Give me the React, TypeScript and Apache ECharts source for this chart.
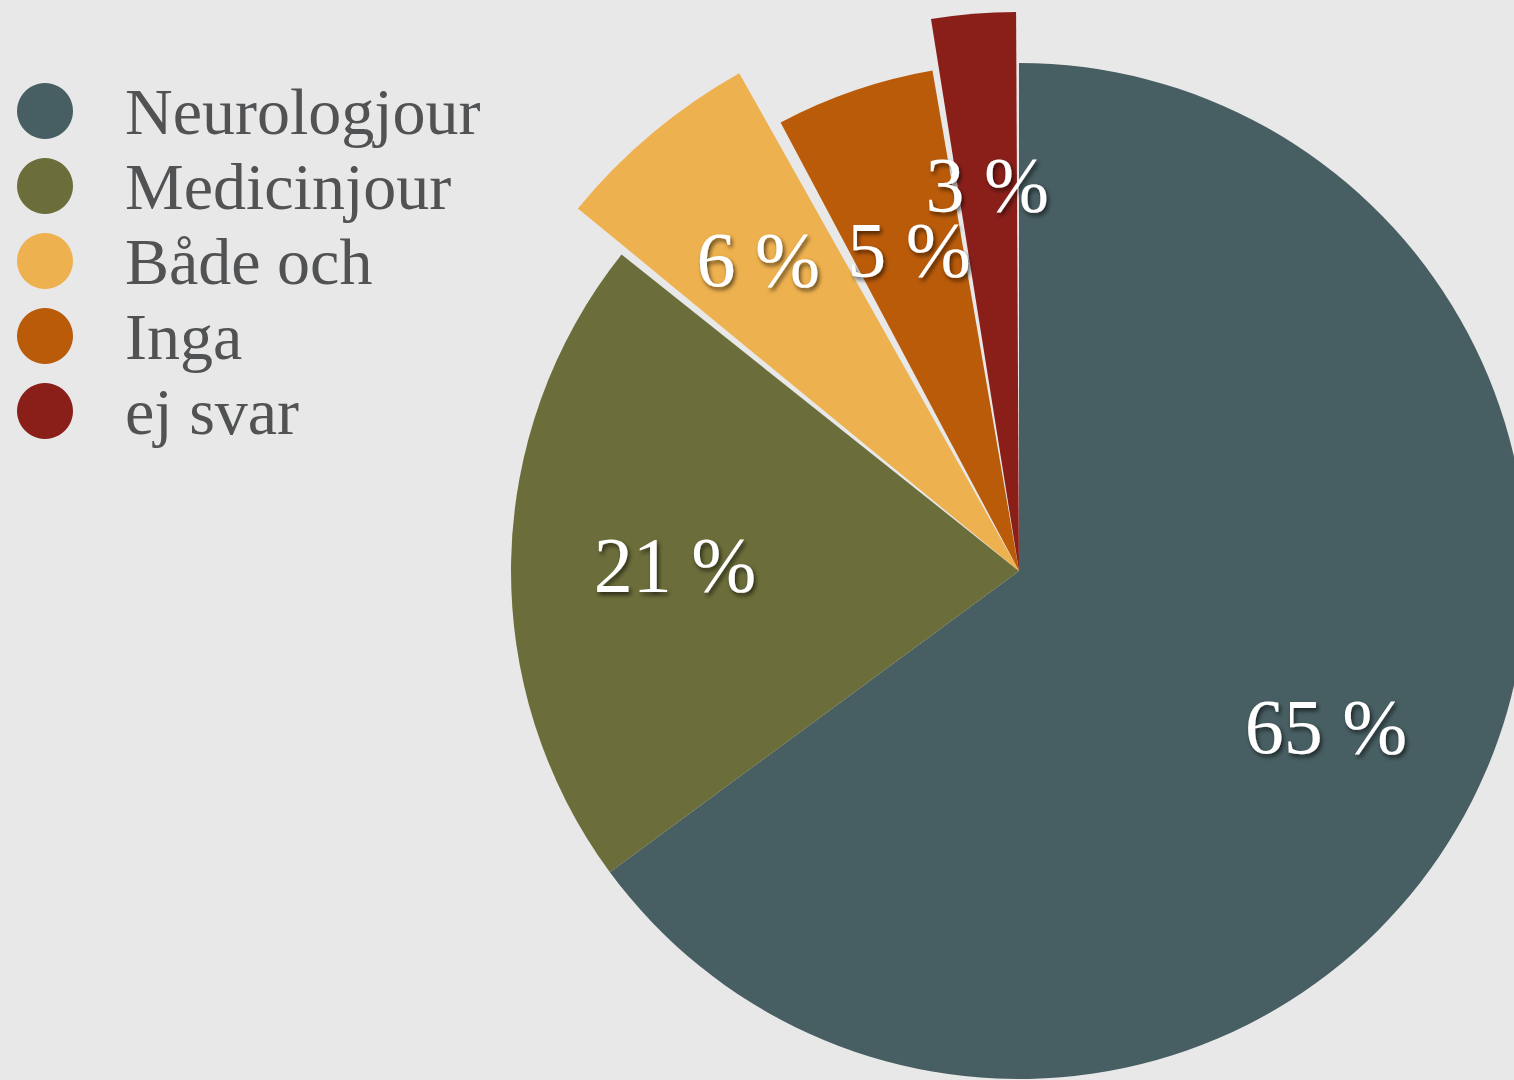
import React, { useEffect, useRef } from "react";
import * as echarts from "echarts";

// ---- data ----
const categories = ["Neurologjour", "Medicinjour", "Både och", "Inga", "ej svar"];
const shares = [64.9, 20.8, 6.4, 5.3, 2.6];

// ---- styles ----
const COLORS = ["#475e62", "#6b6d3a", "#eeb14f", "#ba5b0a", "#8a1f1a"];
const FONT = "'Liberation Serif', 'Times New Roman', serif";
const CENTER = [1019, 571];
// groups of slices drawn with their own (exploded) radius and gap
const GROUPS = [
  { idx: [0, 1], r: 508, pad: 0, labelR: 341 },
  { idx: [2], r: 571, pad: 1.8, labelR: 403 },
  { idx: [3], r: 508, pad: 0.9, labelR: 337 },
  { idx: [4], r: 559, pad: 0.6, labelR: 385 },
];

function buildOption() {
  const drawn: any[] = [];
  const labels: any[] = [];
  GROUPS.forEach((g) => {
    drawn.push({
      type: "pie",
      center: CENTER,
      radius: [0, g.r],
      startAngle: 90,
      clockwise: true,
      padAngle: g.pad,
      silent: true,
      avoidLabelOverlap: false,
      label: { show: false },
      labelLine: { show: false },
      emphasis: { disabled: true },
      data: categories.map((name, i) => ({
        name,
        value: shares[i],
        itemStyle: {
          color: g.idx.includes(i) ? COLORS[i] : "rgba(0,0,0,0)",
          borderWidth: 0,
        },
      })),
    });
    labels.push({
      type: "pie",
      center: CENTER,
      radius: [2 * g.labelR - g.r, g.r],
      startAngle: 90,
      clockwise: true,
      padAngle: g.pad,
      silent: true,
      avoidLabelOverlap: false,
      minShowLabelAngle: 0,
      labelLayout: { hideOverlap: false },
      labelLine: { show: false },
      emphasis: { disabled: true },
      data: categories.map((name, i) => ({
        name,
        value: shares[i],
        itemStyle: { color: "rgba(0,0,0,0)", borderWidth: 0 },
        label: {
          show: g.idx.includes(i),
          position: "inside",
          formatter: Math.round(shares[i]) + " %",
          color: "#ffffff",
          fontFamily: FONT,
          fontSize: 78,
          overflow: "none",
          textShadowColor: "rgba(0,0,0,0.6)",
          textShadowBlur: 4,
          textShadowOffsetX: 2,
          textShadowOffsetY: 3,
        },
      })),
    });
  });

  return {
    animation: false,
    backgroundColor: "#e8e8e8",
    legend: {
      orient: "vertical",
      left: 17,
      top: 78,
      padding: 0,
      itemWidth: 56,
      itemHeight: 56,
      itemGap: 9,
      icon: "circle",
      selectedMode: false,
      textStyle: {
        fontFamily: FONT,
        fontSize: 66,
        color: "#505254",
        padding: [0, 0, 0, 47],
      },
      data: categories.map((name, i) => ({
        name,
        itemStyle: { color: COLORS[i], borderWidth: 0 },
      })),
    },
    series: [...drawn, ...labels],
  };
}

export default function App() {
  const ref = useRef<HTMLDivElement>(null);
  useEffect(() => {
    document.body.style.margin = "0";
    const chart = echarts.init(ref.current!, null, { renderer: "svg" });
    chart.setOption(buildOption() as any);
    return () => chart.dispose();
  }, []);
  return (
    <div
      ref={ref}
      style={{ position: "fixed", left: 0, top: 0, width: 1514, height: 1080 }}
    />
  );
}
